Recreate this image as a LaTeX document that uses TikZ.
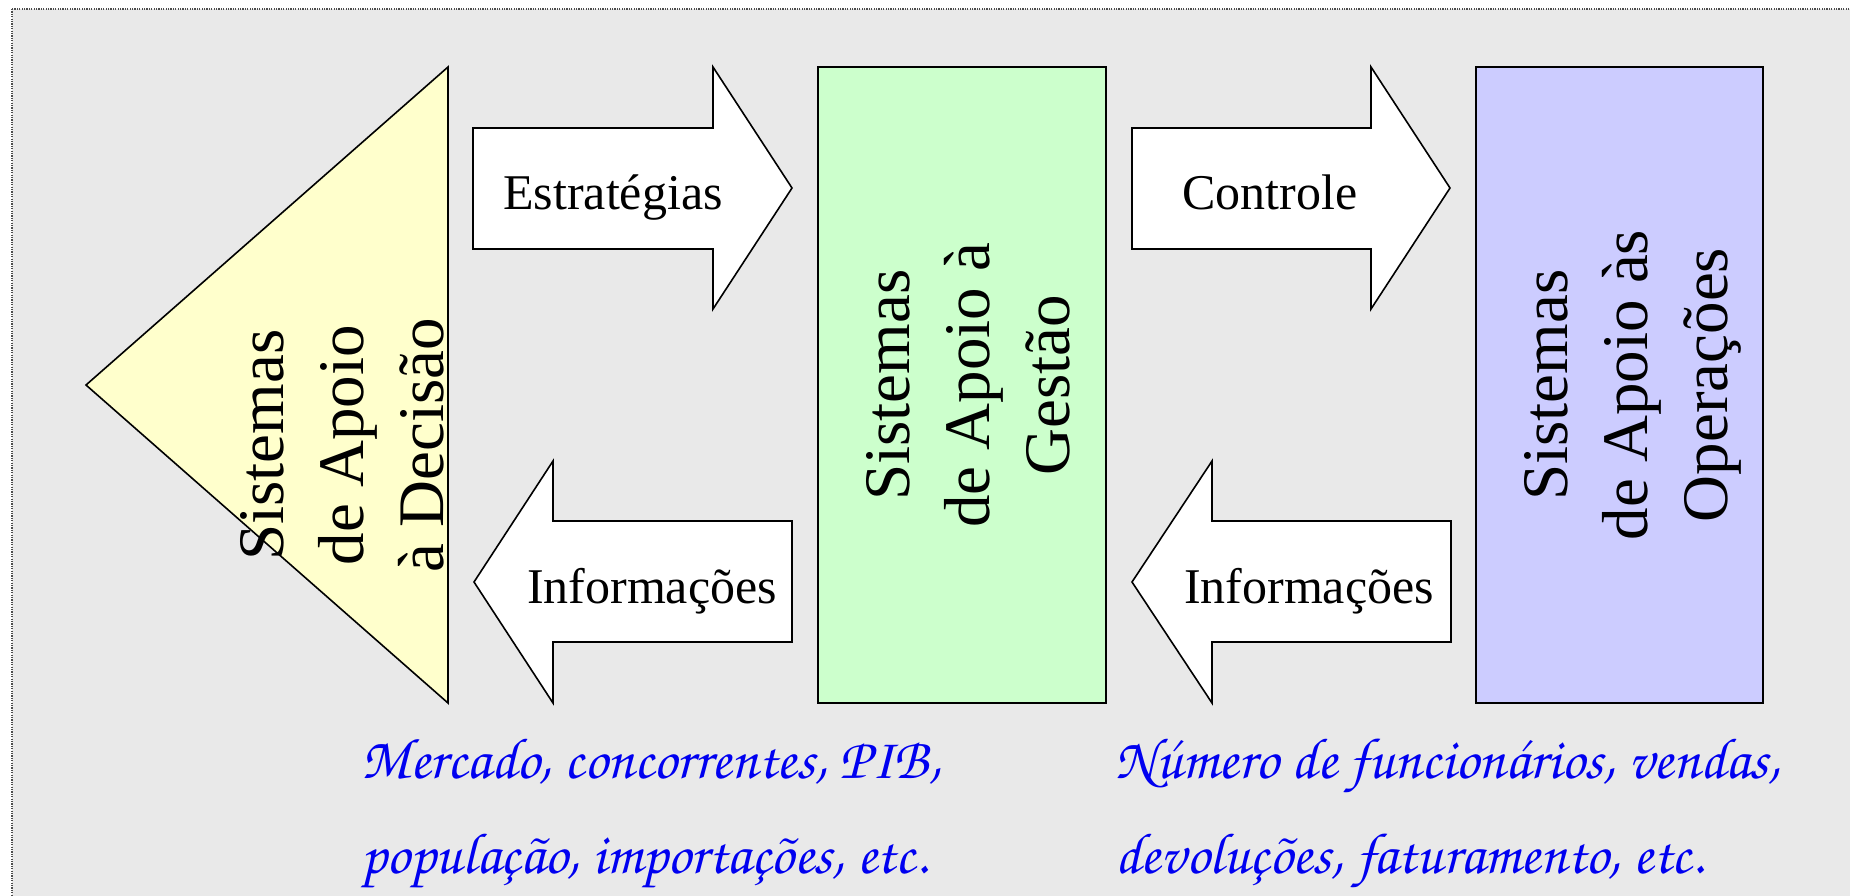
\documentclass[tikz,border=0pt]{standalone}
\usepackage[T1]{fontenc}
\usepackage{fontspec}
\setmainfont{Liberation Serif}
\usepackage{tikz}
\definecolor{panelgray}{HTML}{E9E9E9}
\definecolor{decfill}{HTML}{FFFFCC}
\definecolor{gesfill}{HTML}{CCFFCC}
\definecolor{opsfill}{HTML}{CCCCFF}
\definecolor{noteblue}{HTML}{0000F0}
\newcommand{\handfont}{\fontencoding{T1}\fontfamily{pzc}\fontseries{mb}\fontshape{it}\selectfont}

\begin{document}
\begin{tikzpicture}[x=0.5pt,y=-0.5pt,
  blockarrow/.style={draw,fill=white,line width=0.8pt},
  sysshape/.style={draw,line width=0.8pt},
  systext/.style={rotate=90,align=center,inner sep=0pt,font=\fontsize{32.5}{40}\selectfont},
  flowtext/.style={anchor=base,inner sep=0pt,font=\fontsize{25}{30}\selectfont},
  notetext/.style={anchor=base west,inner sep=0pt,text=noteblue,font=\handfont\fontsize{29}{35}\selectfont}]
 \useasboundingbox (0,0) rectangle (1850,895);
 \clip (0,0) rectangle (1850,895);
 \fill[white] (0,0) rectangle (1850,895);
 \draw[fill=panelgray,draw=black!70,line width=0.6pt,dash pattern=on 0.6pt off 0.6pt] (12,9) rectangle (1875,915);
 % the three levels
 \draw[sysshape,fill=decfill] (86,385) -- (448,67) -- (448,703) -- cycle;
 \draw[sysshape,fill=gesfill] (818,67) rectangle (1106,703);
 \draw[sysshape,fill=opsfill] (1476,67) rectangle (1763,703);
 \node[systext] (dec) at (342,445) {Sistemas\\de Apoio\\à Decisão};
 \node[systext] (ges) at (968,385) {Sistemas\\de Apoio à\\Gestão};
 \node[systext] (ops) at (1633,385) {Sistemas\\de Apoio às\\Operações};
 % block arrows
 \draw[blockarrow] (473,128) -- (713,128) -- (713,67) -- (792,188) -- (713,309) -- (713,249) -- (473,249) -- cycle;
 \draw[blockarrow] (1132,128) -- (1371,128) -- (1371,67) -- (1450,188) -- (1371,309) -- (1371,249) -- (1132,249) -- cycle;
 \draw[blockarrow] (792,521) -- (553,521) -- (553,461) -- (474,582) -- (553,703) -- (553,642) -- (792,642) -- cycle;
 \draw[blockarrow] (1451,521) -- (1212,521) -- (1212,461) -- (1132,582) -- (1212,703) -- (1212,642) -- (1451,642) -- cycle;
 \node[flowtext] (estr) at (613,209) {Estratégias};
 \node[flowtext] (ctrl) at (1270,209) {Controle};
 \node[flowtext] (infodec) at (652,603) {Informações};
 \node[flowtext] (infoges) at (1309,603) {Informações};
 % examples of data
 \node[notetext] (mkt1) at (361,778) {Mercado, concorrentes, PIB,};
 \node[notetext] (mkt2) at (361,873) {população, importações, etc.};
 \node[notetext] (int1) at (1115,778) {Número de funcionários, vendas,};
 \node[notetext] (int2) at (1115,873) {devoluções, faturamento, etc.};
\end{tikzpicture}
\end{document}
